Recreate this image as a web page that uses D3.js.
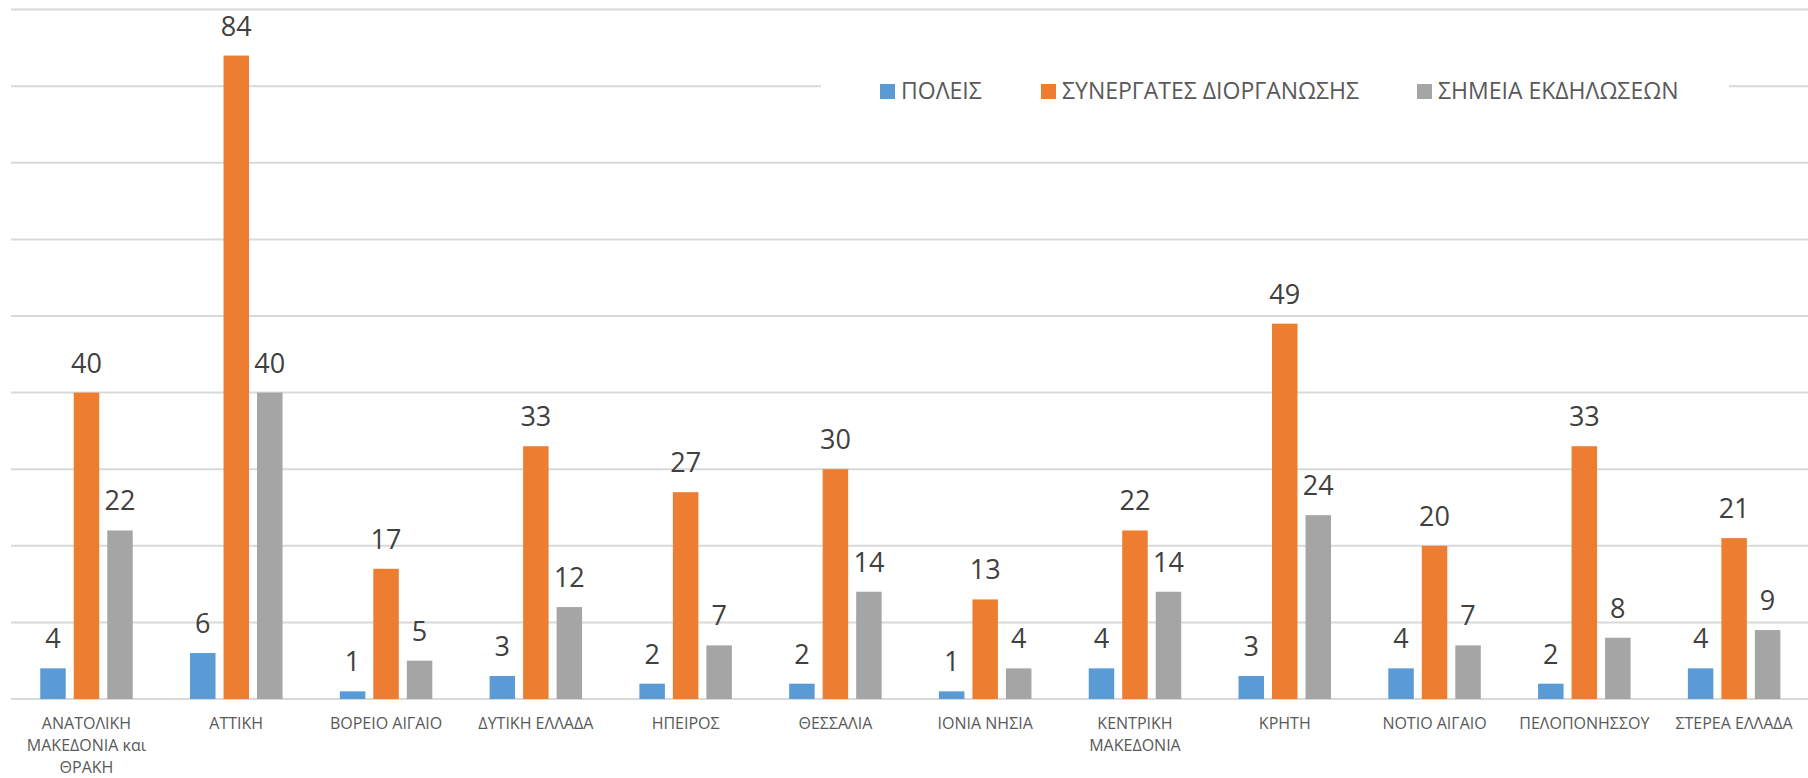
<!DOCTYPE html>
<html><head><meta charset="utf-8">
<script src="https://cdn.jsdelivr.net/npm/d3@7"></script>
<style>body{margin:0;background:#fff}svg{display:block}text{font-family:"Open Sans","Noto Sans",sans-serif}</style>
</head><body>
<svg id="c" width="1808" height="778"></svg>
<script>
const categories = ["ΑΝΑΤΟΛΙΚΗ ΜΑΚΕΔΟΝΙΑ και ΘΡΑΚΗ","ΑΤΤΙΚΗ","ΒΟΡΕΙΟ ΑΙΓΑΙΟ","ΔΥΤΙΚΗ ΕΛΛΑΔΑ","ΗΠΕΙΡΟΣ","ΘΕΣΣΑΛΙΑ","ΙΟΝΙΑ ΝΗΣΙΑ","ΚΕΝΤΡΙΚΗ ΜΑΚΕΔΟΝΙΑ","ΚΡΗΤΗ","ΝΟΤΙΟ ΑΙΓΑΙΟ","ΠΕΛΟΠΟΝΗΣΣΟΥ","ΣΤΕΡΕΑ ΕΛΛΑΔΑ"];
const seriesNames = ["ΠΟΛΕΙΣ","ΣΥΝΕΡΓΑΤΕΣ ΔΙΟΡΓΑΝΩΣΗΣ","ΣΗΜΕΙΑ ΕΚΔΗΛΩΣΕΩΝ"];
const poleis = [4,6,1,3,2,2,1,4,3,4,2,4];
const synergates = [40,84,17,33,27,30,13,22,49,20,33,21];
const simeia = [22,40,5,12,7,14,4,14,24,7,8,9];
const colors = ["#5b9bd5","#ed7d31","#a5a5a5"];
const yTicks = [0,10,20,30,40,50,60,70,80,90];

const series = [poleis, synergates, simeia];
const svg = d3.select("#c");
const x0 = d3.scaleBand().domain(categories).range([11.6, 1809]).padding(0);
const x1 = d3.scaleBand().domain(seriesNames).range([-46.25, 46.25]).paddingInner(0.239).paddingOuter(0);
const y = d3.scaleLinear().domain([0,90]).range([699, 9.6]);

// gridlines
const grid = svg.append("g");
grid.selectAll("line").data(yTicks.slice(1)).join("line")
  .attr("x1", 11).attr("x2", 1808)
  .attr("y1", d => y(d)).attr("y2", d => y(d))
  .attr("stroke", "#d9d9d9").attr("stroke-width", 2);
// baseline
svg.append("line").attr("x1", 11).attr("x2", 1808).attr("y1", y(0)).attr("y2", y(0))
  .attr("stroke", "#d9d9d9").attr("stroke-width", 2);

// bars
const groups = svg.append("g").selectAll("g").data(categories).join("g")
  .attr("transform", d => `translate(${x0(d) + x0.bandwidth()/2},0)`);
groups.each(function(cat, i) {
  const g = d3.select(this);
  series.forEach((s, j) => {
    const v = s[i];
    g.append("rect").attr("x", x1(seriesNames[j])).attr("width", x1.bandwidth())
      .attr("y", y(v)).attr("height", y(0) - y(v)).attr("fill", colors[j]);
    g.append("text").attr("x", x1(seriesNames[j]) + x1.bandwidth()/2).attr("y", y(v) - 20)
      .attr("text-anchor", "middle").attr("font-size", 27).attr("fill", "#404040").text(v);
  });
});

// x labels with wrap
function wrap(textSel, width) {
  textSel.each(function() {
    const t = d3.select(this);
    const words = t.text().split(/\s+/);
    t.text(null);
    let line = [];
    let tspan = t.append("tspan").attr("x", t.attr("x")).attr("dy", 0);
    words.forEach(w => {
      line.push(w);
      tspan.text(line.join(" "));
      if (tspan.node().getComputedTextLength() > width && line.length > 1) {
        line.pop(); tspan.text(line.join(" "));
        line = [w];
        tspan = t.append("tspan").attr("x", t.attr("x")).attr("dy", 22).text(w);
      }
    });
  });
}
svg.append("g").selectAll("text").data(categories).join("text")
  .attr("x", d => x0(d) + x0.bandwidth()/2).attr("y", 729)
  .attr("text-anchor", "middle").attr("font-size", 16).attr("fill", "#595959")
  .text(d => d).call(wrap, 135);

// legend
const lg = svg.append("g");
lg.append("rect").attr("x", 821).attr("y", 60).attr("width", 908).attr("height", 60).attr("fill", "#fff");
const legX = [880, 1041, 1417];
seriesNames.forEach((n, j) => {
  lg.append("rect").attr("x", legX[j]).attr("y", 84).attr("width", 15).attr("height", 15).attr("fill", colors[j]);
  lg.append("text").attr("x", legX[j] + 21).attr("y", 99).attr("font-size", 23).attr("fill", "#595959").text(n);
});
</script>
</body></html>
